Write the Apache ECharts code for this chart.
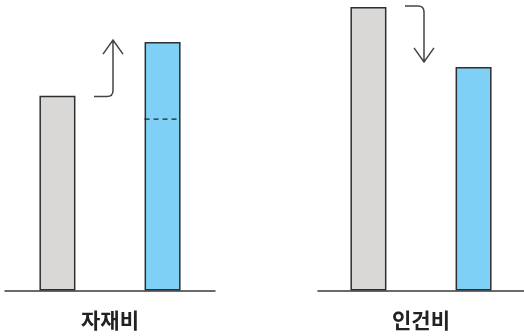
<!DOCTYPE html>
<html>
<head>
<meta charset="utf-8">
<script src="https://cdn.jsdelivr.net/npm/echarts@6/dist/echarts.min.js"></script>
<style>
html,body{margin:0;padding:0;background:#fff;}
#c{width:524px;height:336px;}
</style>
</head>
<body>
<div id="c"></div>
<script>
// Categories (one group per panel)
const groups = ['자재비', '인건비'];
// Relative heights (arbitrary units, 0-100)
const beforeVals = [67.0, 97.6];   // gray bars
const afterVals = [85.5, 76.9];    // blue bars
const dashedVals = [59.0, null];   // dashed reference inside blue bar
const arrowFrom = [66.8, 97.9];
const arrowTo = [86.2, 78.7];

const BAR_W = 36, BAR_GAP = '192%';
const GRAY = '#dad7d7', BLUE = '#7fd0f7', EDGE = '#2e2e2e';

const chart = echarts.init(document.getElementById('c'));

const grids = [
  {left: 5, width: 210, top: 0, bottom: 45.5},
  {left: 318, width: 210, top: 0, bottom: 45.5}
];
const xAxes = groups.map((g, i) => ({
  type: 'category', gridIndex: i, data: [g],
  axisLine: {lineStyle: {color: '#3a3a3a', width: 1.5}},
  axisTick: {show: false},
  axisLabel: {color: '#222', fontSize: 21, fontWeight: 'bold',
    fontFamily: '"Noto Sans CJK KR", sans-serif', margin: 19}
}));
const yAxes = groups.map((g, i) => ({
  type: 'value', gridIndex: i, min: 0, max: 100, show: false
}));

const series = [];
groups.forEach((g, i) => {
  series.push({
    type: 'bar', xAxisIndex: i, yAxisIndex: i, barWidth: BAR_W, barGap: BAR_GAP,
    data: [beforeVals[i]], silent: true,
    itemStyle: {color: GRAY, borderColor: EDGE, borderWidth: 1.5}
  });
  series.push({
    type: 'bar', xAxisIndex: i, yAxisIndex: i, barWidth: BAR_W, barGap: BAR_GAP,
    data: [afterVals[i]], silent: true,
    itemStyle: {color: BLUE, borderColor: EDGE, borderWidth: 1.5}
  });
  if (dashedVals[i] != null) {
    series.push({
      type: 'custom', xAxisIndex: i, yAxisIndex: i, silent: true, z: 5,
      data: [[0, dashedVals[i]]],
      renderItem: function (params, api) {
        const layout = api.barLayout({barWidth: BAR_W, barGap: BAR_GAP, count: 2});
        const c = api.coord([api.value(0), api.value(1)]);
        const l = layout[1];
        const x0 = c[0] + l.offset, x1 = x0 + l.width;
        return {type: 'line', shape: {x1: x0, y1: c[1], x2: x1, y2: c[1]},
          style: {stroke: '#222', lineWidth: 1.3, lineDash: [5, 4]}};
      }
    });
  }
  series.push({
    type: 'custom', xAxisIndex: i, yAxisIndex: i, silent: true, z: 5,
    data: [[0, arrowFrom[i], arrowTo[i]]],
    renderItem: function (params, api) {
      const p0 = api.coord([api.value(0), api.value(1)]);
      const p1 = api.coord([api.value(0), api.value(2)]);
      const xc = p0[0] + 3, xs = p0[0] - 16;
      const y0 = p0[1], y1 = p1[1];
      const dir = y1 < y0 ? -1 : 1, r = 6;
      const path = 'M' + xs + ' ' + y0 + ' L' + (xc - r) + ' ' + y0 +
        ' Q' + xc + ' ' + y0 + ' ' + xc + ' ' + (y0 + dir * r) +
        ' L' + xc + ' ' + y1 +
        ' M' + (xc - 10) + ' ' + (y1 - dir * 14) + ' L' + xc + ' ' + y1 +
        ' L' + (xc + 10) + ' ' + (y1 - dir * 14);
      return {type: 'path', shape: {pathData: path},
        style: {stroke: '#444', lineWidth: 1.5, fill: null}};
    }
  });
});

chart.setOption({
  animation: false,
  backgroundColor: '#ffffff',
  grid: grids,
  xAxis: xAxes,
  yAxis: yAxes,
  series: series
});
</script>
</body>
</html>
